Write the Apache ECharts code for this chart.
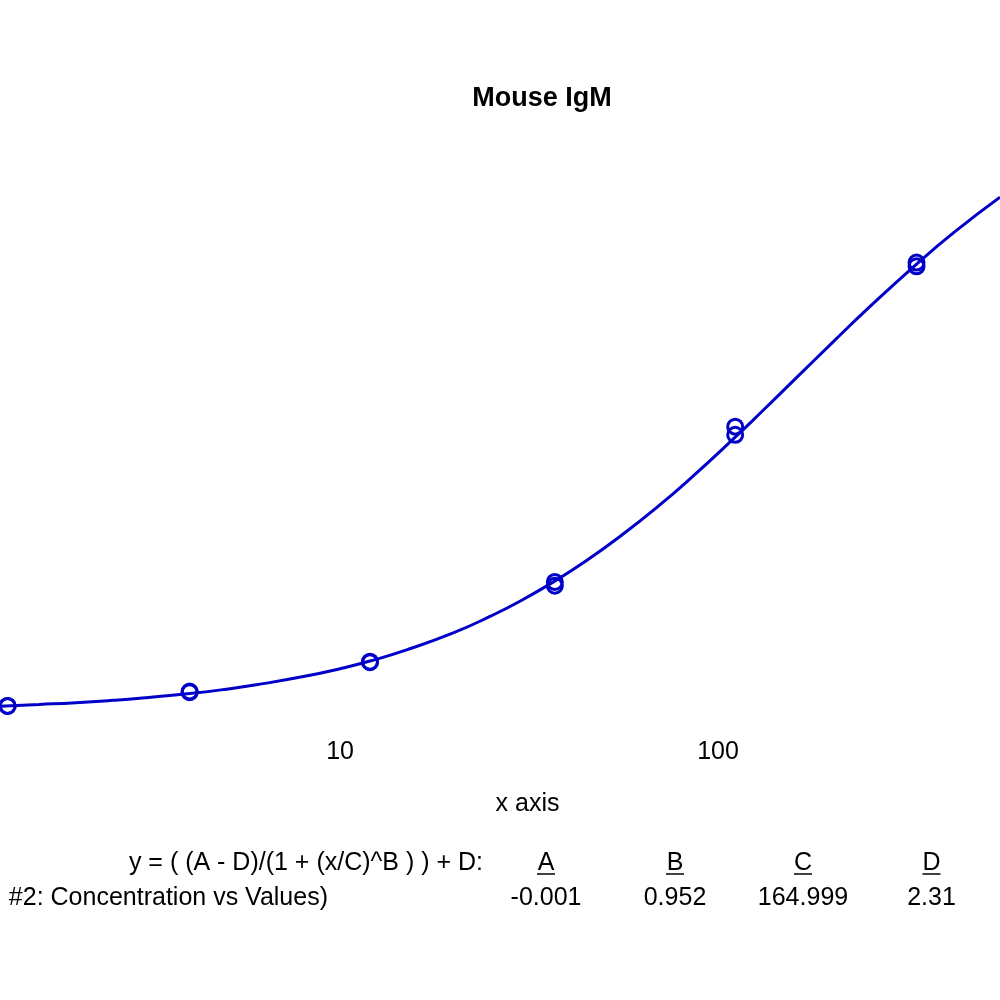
<!DOCTYPE html>
<html>
<head>
<meta charset="utf-8">
<script src="https://cdn.jsdelivr.net/npm/echarts@6/dist/echarts.min.js"></script>
<style>
html,body{margin:0;padding:0;background:#fff;}
#chart{width:1000px;height:1000px;}
</style>
</head>
<body>
<div id="chart"></div>
<script>
var concentrations = [1.32, 1.32, 4, 4, 12, 12, 37, 37, 111, 111, 335, 335];
var values = [0.022, 0.022, 0.069, 0.071, 0.171, 0.173, 0.445, 0.432, 0.975, 0.947, 1.535, 1.522];

// Fitted curve
var curveX = [1.26, 1.6, 2, 2.5, 3, 4, 5, 6, 8, 10, 12, 15, 20, 25, 30, 37, 45, 55, 70, 85, 111, 130, 160, 200, 250, 334, 420, 557];
var curveY = [0.021, 0.027, 0.033, 0.041, 0.049, 0.064, 0.079, 0.094, 0.122, 0.149, 0.175, 0.213, 0.272, 0.328, 0.380, 0.448, 0.519, 0.600, 0.707, 0.801, 0.939, 1.024, 1.138, 1.260, 1.380, 1.528, 1.637, 1.758];

// Tick labels shown on the log x axis
var xTickLabels = ['10', '100'];

// Fit equation table
var equationText = 'y = ( (A - D)/(1 + (x/C)^B ) ) + D:';
var seriesLabel = '#2: Concentration vs Values)';
var paramNames = ['A', 'B', 'C', 'D'];
var paramValues = ['-0.001', '0.952', '164.999', '2.31'];
var chartTitle = 'Mouse IgM';
var xAxisName = 'x axis';

var BLUE = '#0000c8';
var FONT = 'Liberation Sans';

var chart = echarts.init(document.getElementById('chart'));

var pointData = concentrations.map(function (c, i) { return [c, values[i]]; });
var curveData = curveX.map(function (c, i) { return [c, curveY[i]]; });

var paramX = [546, 675, 803, 931.5];
var graphics = [];
graphics.push({
  type: 'text', x: 542, y: 99,
  style: { text: chartTitle, fontSize: 27, fontWeight: 'bold', fontFamily: FONT, fill: '#000', align: 'center', verticalAlign: 'middle' }
});
graphics.push({
  type: 'text', x: 483, y: 863,
  style: { text: equationText, fontSize: 25, fontFamily: FONT, fill: '#000', align: 'right', verticalAlign: 'middle' }
});
graphics.push({
  type: 'text', x: 328, y: 898,
  style: { text: seriesLabel, fontSize: 25, fontFamily: FONT, fill: '#000', align: 'right', verticalAlign: 'middle' }
});
paramNames.forEach(function (n, i) {
  graphics.push({
    type: 'text', x: paramX[i], y: 863,
    style: { text: n, fontSize: 25, fontFamily: FONT, fill: '#000', align: 'center', verticalAlign: 'middle' }
  });
  graphics.push({
    type: 'line',
    shape: { x1: paramX[i] - 9, y1: 874, x2: paramX[i] + 9, y2: 874 },
    style: { stroke: '#000', lineWidth: 1.5 }
  });
  graphics.push({
    type: 'text', x: paramX[i], y: 898,
    style: { text: paramValues[i], fontSize: 25, fontFamily: FONT, fill: '#000', align: 'center', verticalAlign: 'middle' }
  });
});

chart.setOption({
  animation: false,
  backgroundColor: '#fff',
  grid: { left: 0, right: 0, top: 53, bottom: 273, containLabel: false, outerBoundsMode: 'none' },
  xAxis: {
    type: 'log',
    logBase: 10,
    min: 1.26,
    max: 557,
    axisLine: { show: false },
    axisTick: { show: false },
    splitLine: { show: false },
    minorTick: { show: false },
    axisLabel: {
      show: true,
      margin: 13,
      showMinLabel: false,
      showMaxLabel: false,
      fontSize: 25,
      fontFamily: FONT,
      color: '#000',
      formatter: function (v) {
        var s = String(Math.round(v));
        return xTickLabels.indexOf(s) >= 0 ? s : '';
      }
    },
    name: xAxisName,
    nameLocation: 'middle',
    nameGap: 65,
    nameTextStyle: { fontSize: 25, fontFamily: FONT, color: '#000', padding: [0, 0, 0, 55] }
  },
  yAxis: {
    type: 'value',
    min: -0.05,
    max: 2.25,
    show: false,
    splitLine: { show: false }
  },
  series: [
    {
      type: 'line',
      data: curveData,
      smooth: true,
      showSymbol: false,
      symbol: 'none',
      lineStyle: { color: BLUE, width: 3 },
      z: 2
    },
    {
      type: 'scatter',
      data: pointData,
      symbol: 'circle',
      symbolSize: 15,
      itemStyle: { color: 'rgba(0,0,0,0)', borderColor: BLUE, borderWidth: 3, opacity: 1 },
      z: 3
    }
  ],
  graphic: graphics
});
</script>
</body>
</html>
